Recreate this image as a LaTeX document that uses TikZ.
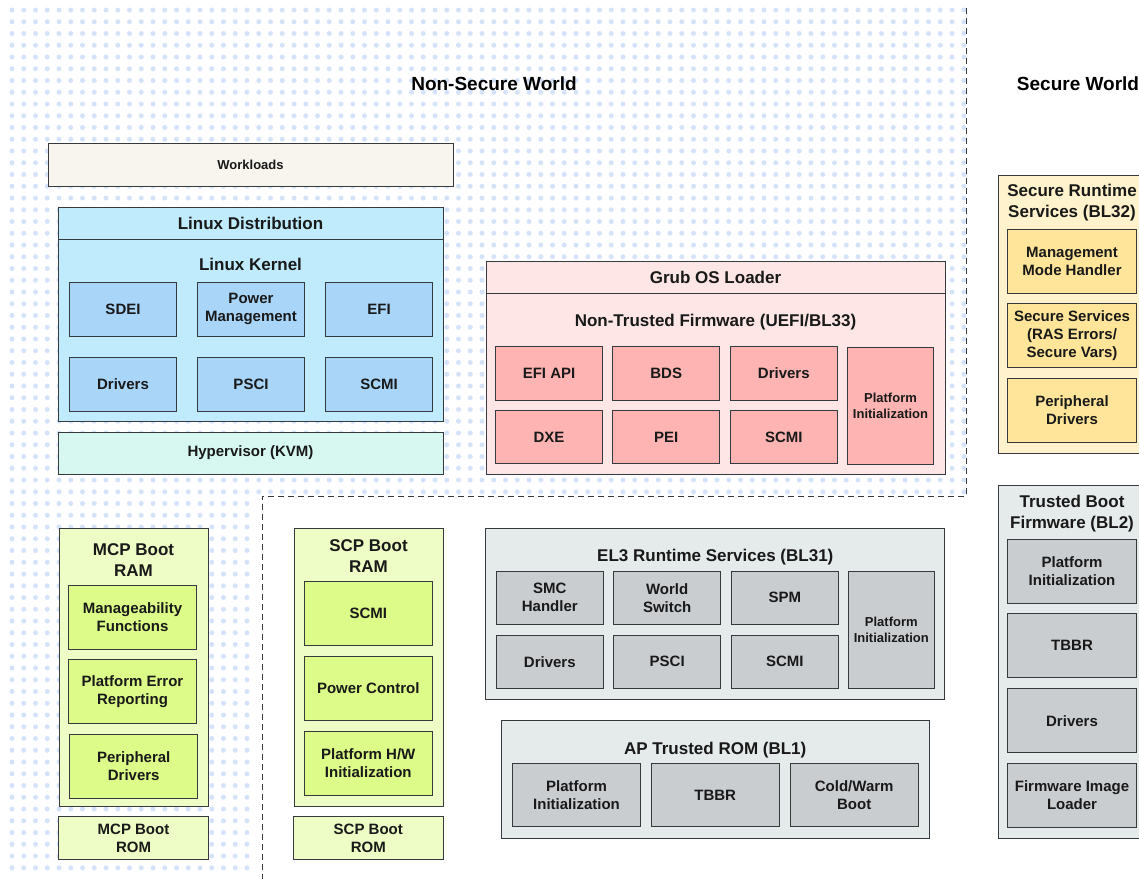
\documentclass[tikz,border=0pt]{standalone}
\usepackage{fontspec}
\setmainfont{Liberation Sans}

\definecolor{edge}{HTML}{36393D}
\definecolor{dotblue}{HTML}{D4E3FA}
\definecolor{beige}{HTML}{F7F5EE}
\definecolor{distro}{HTML}{BFEBFD}
\definecolor{kernin}{HTML}{A9D5F8}
\definecolor{hyper}{HTML}{D7F8F0}
\definecolor{grubout}{HTML}{FFE6E6}
\definecolor{grubin}{HTML}{FFB4B4}
\definecolor{secout}{HTML}{FFF2CC}
\definecolor{secin}{HTML}{FFE599}
\definecolor{grnout}{HTML}{EEFCC6}
\definecolor{grnin}{HTML}{DDFB88}
\definecolor{gryout}{HTML}{E5EAEA}
\definecolor{gryin}{HTML}{CACDD0}

\tikzset{
	blk/.style={draw=edge, line width=1pt, align=center, inner sep=2pt, text=black!90, font=\bfseries\fontsize{15}{18}\selectfont},
	sz/.style 2 args={minimum width=#1pt, minimum height=#2pt},
	smalltxt/.style={font=\bfseries\fontsize{13}{16}\selectfont},
	hdr/.style={font=\bfseries\fontsize{17}{21}\selectfont},
	ttl/.style={align=center, inner sep=0pt, yshift=-2pt, text=black!90, font=\bfseries\fontsize{17}{21}\selectfont},
	world/.style={inner sep=0pt, font=\bfseries\fontsize{19}{23}\selectfont},
	dotrow/.style={dotblue, line width=5pt, line cap=round, dash pattern=on 0pt off 11.75pt},
	worldline/.style={edge, line width=1pt, dash pattern=on 6pt off 4pt}
}

\begin{document}
\begin{tikzpicture}[x=1pt, y=-1pt]

	\useasboundingbox (0,0) rectangle (1139,879);
	\clip (0,0) rectangle (1139,879);
	\fill[white] (0,0) rectangle (1139,879);

	% non-secure world background
	\foreach \r in {0,...,41} \draw[dotrow] (12,{10+\r*11.75}) -- (964,{10+\r*11.75});
	\foreach \r in {42,...,73} \draw[dotrow] (12,{10+\r*11.75}) -- (258,{10+\r*11.75});
	\draw[worldline] (966,8) -- (966,496) -- (262,496) -- (262,879);

	\node[world](nsworld) at (494,84){Non-Secure World};
	\node[world](sworld) at (1078,84){Secure World};

	% linux side
	\node[blk, smalltxt, fill=beige, sz={405}{43}](workloads) at (250.5,164.5){Workloads};
	\node[blk, hdr, fill=distro, sz={385}{32}](distro) at (250.5,223){Linux Distribution};
	\node[blk, fill=distro, sz={385}{182}](kernel) at (250.5,330){};
	\node[ttl](kerneltitle) at (250.5,262){Linux Kernel};
	\node[blk, fill=kernin, sz={107}{54}](sdei) at (123,309){SDEI};
	\node[blk, fill=kernin, sz={107}{54}](pwrmgmt) at (251,309){Power\\Management};
	\node[blk, fill=kernin, sz={107}{54}](kefi) at (379,309){EFI};
	\node[blk, fill=kernin, sz={107}{54}](kdrivers) at (123,384){Drivers};
	\node[blk, fill=kernin, sz={107}{54}](kpsci) at (251,384){PSCI};
	\node[blk, fill=kernin, sz={107}{54}](kscmi) at (379,384){SCMI};
	\node[blk, fill=hyper, sz={385}{42}](hyp) at (250.5,453){Hypervisor (KVM)};

	% uefi
	\node[blk, hdr, fill=grubout, sz={459}{32}](grub) at (715.5,277){Grub OS Loader};
	\node[blk, fill=grubout, sz={459}{181}](uefi) at (715.5,383.5){};
	\node[ttl](uefititle) at (715.5,320){Non-Trusted Firmware (UEFI/BL33)};
	\node[blk, fill=grubin, sz={107}{53.5}](efiapi) at (549,373.3){EFI API};
	\node[blk, fill=grubin, sz={107}{53.5}](bds) at (666.2,373.3){BDS};
	\node[blk, fill=grubin, sz={107}{53.5}](udrivers) at (783.8,373.3){Drivers};
	\node[blk, fill=grubin, sz={107}{53.5}](dxe) at (549,437.2){DXE};
	\node[blk, fill=grubin, sz={107}{53.5}](pei) at (666.2,437.2){PEI};
	\node[blk, fill=grubin, sz={107}{53.5}](uscmi) at (783.8,437.2){SCMI};
	\node[blk, smalltxt, fill=grubin, sz={85.6}{117}](uplat) at (890.5,405.5){Platform\\Initialization};

	% secure runtime
	\node[blk, fill=secout, sz={148}{278}](bl32) at (1072,314){};
	\node[ttl](bl32title) at (1072,201){Secure Runtime\\Services (BL32)};
	\node[blk, fill=secin, sz={129.4}{64}](mmh) at (1072,261.3){Management\\Mode Handler};
	\node[blk, fill=secin, sz={129.4}{64.4}](secsvc) at (1072,335.5){Secure Services\\(RAS Errors/\\Secure Vars)};
	\node[blk, fill=secin, sz={129.4}{64.4}](sperdrv) at (1072,410.5){Peripheral\\Drivers};

	% trusted boot
	\node[blk, fill=gryout, sz={148}{353}](bl2) at (1072,661.5){};
	\node[ttl](bl2title) at (1072,512){Trusted Boot\\Firmware (BL2)};
	\node[blk, fill=gryin, sz={129.4}{64}](bl2plat) at (1072,571.3){Platform\\Initialization};
	\node[blk, fill=gryin, sz={129.4}{64}](bl2tbbr) at (1072,645.8){TBBR};
	\node[blk, fill=gryin, sz={129.4}{64}](bl2drv) at (1072,720.7){Drivers};
	\node[blk, fill=gryin, sz={129.4}{64}](bl2fil) at (1072,795.3){Firmware Image\\Loader};

	% mcp and scp
	\node[blk, fill=grnout, sz={149}{278}](mcpram) at (133.5,667){};
	\node[ttl](mcptitle) at (133.5,558){MCP Boot\\RAM};
	\node[blk, fill=grnin, sz={128.4}{64}](mcpmng) at (132.5,617){Manageability\\Functions};
	\node[blk, fill=grnin, sz={128.4}{64}](mcperr) at (132.5,691.8){Platform Error\\Reporting};
	\node[blk, fill=grnin, sz={128.4}{64}](mcpdrv) at (133.7,766.5){Peripheral\\Drivers};
	\node[blk, fill=grnout, sz={149.6}{42.6}](mcprom) at (133.5,838){MCP Boot\\ROM};

	\node[blk, fill=grnout, sz={149}{278}](scpram) at (368.5,667){};
	\node[ttl](scptitle) at (368.5,554.5){SCP Boot\\RAM};
	\node[blk, fill=grnin, sz={128}{64}](scpscmi) at (368.3,613.7){SCMI};
	\node[blk, fill=grnin, sz={128}{64}](scppwr) at (368.3,688.3){Power Control};
	\node[blk, fill=grnin, sz={128}{64}](scphw) at (368.3,763.3){Platform H/W\\Initialization};
	\node[blk, fill=grnout, sz={150}{42.6}](scprom) at (368.3,838){SCP Boot\\ROM};

	% el3
	\node[blk, fill=gryout, sz={459.3}{171}](bl31) at (715.3,613.8){};
	\node[ttl](bl31title) at (715.3,555){EL3 Runtime Services (BL31)};
	\node[blk, fill=gryin, sz={107}{53.3}](smc) at (549.8,597.7){SMC\\Handler};
	\node[blk, fill=gryin, sz={107}{53.3}](wswitch) at (667.2,597.7){World\\Switch};
	\node[blk, fill=gryin, sz={107}{53.3}](spm) at (784.8,597.7){SPM};
	\node[blk, fill=gryin, sz={107}{53.3}](bl31drv) at (549.8,661.7){Drivers};
	\node[blk, fill=gryin, sz={107}{53.3}](bl31psci) at (667.2,661.7){PSCI};
	\node[blk, fill=gryin, sz={107}{53.3}](bl31scmi) at (784.8,661.7){SCMI};
	\node[blk, smalltxt, fill=gryin, sz={86}{117.3}](bl31plat) at (891.3,629.7){Platform\\Initialization};

	% bl1
	\node[blk, fill=gryout, sz={427.7}{117.6}](bl1) at (715.2,779.5){};
	\node[ttl](bl1title) at (715.2,747.7){AP Trusted ROM (BL1)};
	\node[blk, fill=gryin, sz={128.4}{63.3}](bl1plat) at (576.5,795.3){Platform\\Initialization};
	\node[blk, fill=gryin, sz={128.4}{63.3}](bl1tbbr) at (715.2,795.3){TBBR};
	\node[blk, fill=gryin, sz={128.4}{63.3}](bl1boot) at (854.2,795.3){Cold/Warm\\Boot};

\end{tikzpicture}
\end{document}
